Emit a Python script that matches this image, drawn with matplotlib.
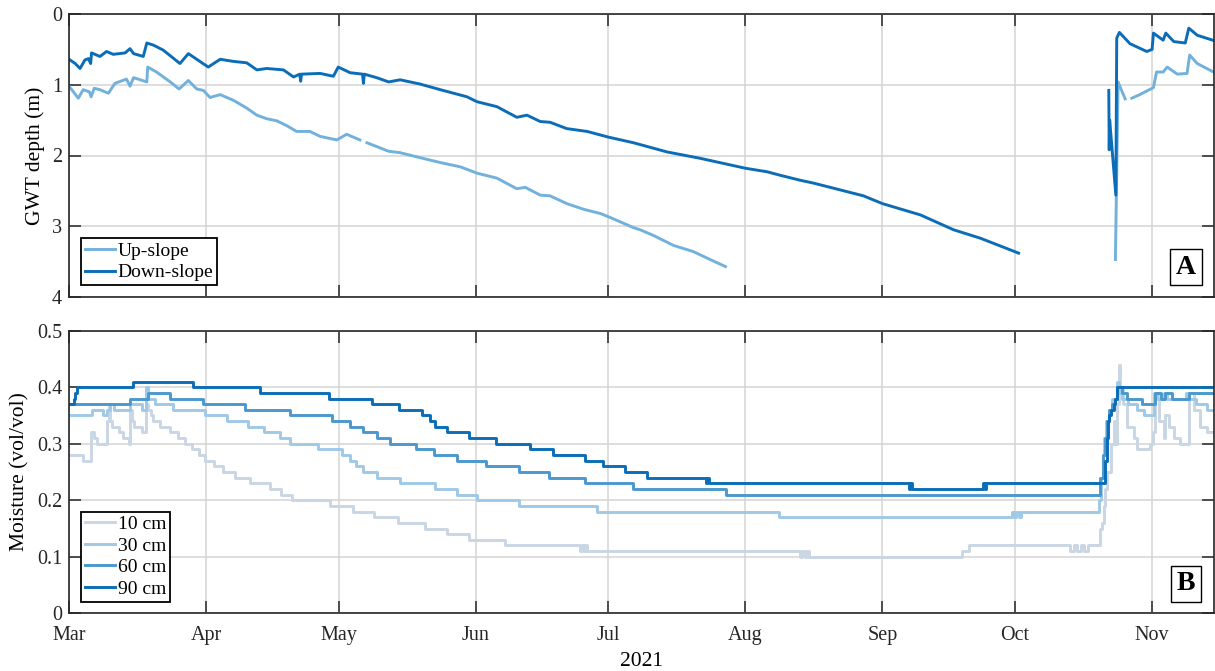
import numpy as np
import pandas as pd
import matplotlib
matplotlib.use("Agg")
from matplotlib import pyplot as plt
import matplotlib.dates as mdates

nan = np.nan

# groundwater table depth (m), days after 1 Mar 2021
up_days = [0, 2.1, 3.2, 4.6, 5.0, 5.7, 7.0, 8.9, 10.4, 13.0, 13.8, 14.6, 16.1, 17.6, 17.8, 19.8, 22.9, 24.9, 27.0, 28.9,
           30.4, 31.9, 34.2, 37.2, 40.2, 42.5, 44.7, 47.0, 49.3, 51.5,
           54.5, 56.8, 60.6, 62.8, 65.8, 66.6, 67.4, 72.3, 74.9, 78.7,
           84.0, 88.5, 92.3, 96.8, 101.3, 103.2, 106.6, 108.8, 112.6, 116.4,
           120.2, 122.2, 127.7, 129.2, 132.2, 136.7, 141.3, 145.0, 148.5, 190.0,
           236.7, 237.3, 238.9, 239.6, 240.4, 242.2, 245.3, 246.0, 247.5, 248.4,
           250.7, 252.9, 253.5, 255.2, 259.2]
up_depth = [1.02, 1.19, 1.07, 1.10, 1.17, 1.05, 1.07, 1.12, 0.98, 0.92,
            1.02, 0.90, 0.93, 0.96, 0.75, 0.82, 0.96, 1.06, 0.94, 1.06,
            1.08, 1.18, 1.14, 1.22, 1.33, 1.43, 1.48, 1.51, 1.58, 1.66,
            1.66, 1.73, 1.78, 1.70, 1.78, nan, 1.82, 1.94, 1.96, 2.02,
            2.10, 2.16, 2.25, 2.32, 2.47, 2.45, 2.56, 2.57, 2.68, 2.76,
            2.82, 2.87, 3.02, 3.05, 3.13, 3.27, 3.36, 3.47, 3.57, nan,
            3.47, 0.96, 1.20, nan, 1.19, 1.14, 1.04, 0.82, 0.82, 0.75,
            0.85, 0.84, 0.58, 0.70, 0.83]

dn_days = [0, 1.4, 2.5, 3.6, 4.4, 4.9, 5.1, 7.0, 8.5, 10.0,
           12.7, 13.8, 14.6, 16.8, 17.6, 19.1, 21.3, 25.1, 27.0, 29.6,
           31.5, 34.2, 37.2, 40.2, 42.5, 44.7, 48.5, 50.8, 52.2, 52.4,
           52.6, 56.8, 59.8, 60.9, 63.6, 66.4, 66.6, 66.8, 69.6, 72.3,
           74.9, 79.4, 84.0, 90.0, 92.3, 96.8, 101.3, 103.6, 106.6, 108.8,
           112.6, 117.2, 122.0, 127.7, 135.3, 142.8, 153.0, 157.9, 160.9, 165.4,
           168.4, 179.7, 184.0, 192.6, 200.1, 206.2, 214.8, 225.0, 235.2, 235.3,
           235.4, 236.8, 237.0, 237.6, 240.0, 243.8, 245.0, 245.3, 247.5, 248.1,
           249.9, 252.5, 253.3, 255.2, 259.2]
dn_depth = [0.64, 0.70, 0.77, 0.65, 0.63, 0.70, 0.55, 0.60, 0.53, 0.57,
            0.55, 0.49, 0.56, 0.60, 0.41, 0.44, 0.51, 0.70, 0.56, 0.67,
            0.75, 0.64, 0.67, 0.69, 0.79, 0.77, 0.79, 0.89, 0.85, 0.95,
            0.85, 0.84, 0.88, 0.75, 0.83, 0.85, 0.98, 0.85, 0.90, 0.96,
            0.93, 0.99, 1.07, 1.17, 1.24, 1.31, 1.46, 1.43, 1.52, 1.53,
            1.62, 1.66, 1.74, 1.82, 1.95, 2.04, 2.18, 2.23, 2.28, 2.35,
            2.39, 2.57, 2.68, 2.84, 3.05, 3.17, 3.38, nan, 1.08, 1.92,
            1.50, 2.56, 0.34, 0.26, 0.42, 0.53, 0.50, 0.27, 0.37, 0.27,
            0.39, 0.41, 0.20, 0.30, 0.38]

# soil moisture (vol/vol), step changes
m10_days = [0, 3.2, 5.0, 5.6, 6.3, 8.6, 9.0, 9.3, 9.8, 11.4,
            12.3, 13.5, 13.9, 14.2, 14.8, 16.5, 17.4, 17.8, 18.5, 19.1,
            20.6, 22.9, 24.7, 26.3, 27.8, 29.3, 30.8, 32.7, 34.9, 37.6,
            41.0, 45.5, 48.0, 50.5, 59.0, 64.3, 68.9, 74.5, 80.6, 85.5,
            90.4, 98.7, 115.6, 116.0, 116.4, 116.8, 117.2, 165.4, 165.9, 166.4,
            166.9, 167.4, 168.0, 202.0, 203.5, 226.5, 227.3, 228.1, 228.9, 229.7,
            230.5, 232.9, 233.3, 233.7, 234.1, 234.4, 234.8, 235.6, 236.3, 236.7,
            237.1, 237.5, 237.8, 238.0, 238.5, 239.3, 240.8, 241.6, 243.8, 244.6,
            245.3, 245.7, 246.5, 247.6, 248.0, 248.8, 249.9, 251.4, 253.1, 253.3,
            254.4, 255.9, 257.5, 259.2]
m10_vals = [0.28, 0.27, 0.32, 0.31, 0.30, 0.34, 0.37, 0.34, 0.33, 0.32,
            0.31, 0.30, 0.36, 0.34, 0.33, 0.32, 0.37, 0.36, 0.35, 0.34,
            0.33, 0.32, 0.31, 0.30, 0.29, 0.28, 0.27, 0.26, 0.25, 0.24,
            0.23, 0.22, 0.21, 0.20, 0.19, 0.18, 0.17, 0.16, 0.15, 0.14,
            0.13, 0.12, 0.11, 0.12, 0.11, 0.12, 0.11, 0.10, 0.11, 0.10,
            0.11, 0.10, 0.10, 0.11, 0.12, 0.11, 0.12, 0.11, 0.12, 0.11,
            0.12, 0.12, 0.15, 0.16, 0.19, 0.22, 0.25, 0.30, 0.34, 0.30,
            0.37, 0.44, 0.40, 0.40, 0.37, 0.33, 0.31, 0.29, 0.29, 0.30,
            0.32, 0.39, 0.34, 0.31, 0.35, 0.33, 0.31, 0.30, 0.30, 0.39,
            0.36, 0.33, 0.32, 0.31]

m30_days = [0, 5.1, 7.8, 8.5, 9.3, 10.2, 13.8, 16.5, 17.5, 17.8,
            19.5, 23.6, 30.8, 35.7, 40.6, 44.0, 47.7, 50.0, 56.4, 61.7,
            63.6, 65.0, 66.6, 69.6, 74.9, 82.8, 87.7, 92.3, 101.7, 119.4,
            160.5, 213.3, 213.8, 214.3, 214.8, 215.3, 216.3, 232.9, 233.4, 233.8,
            234.2, 234.6, 235.2, 236.0, 237.0, 237.6, 238.2, 239.5, 241.6, 243.2,
            245.5, 246.0, 247.8, 248.3, 252.6, 253.2, 255.0, 257.5, 259.2]
m30_vals = [0.35, 0.36, 0.35, 0.36, 0.37, 0.36, 0.37, 0.36, 0.40, 0.38,
            0.37, 0.36, 0.35, 0.34, 0.33, 0.32, 0.31, 0.30, 0.29, 0.28,
            0.27, 0.26, 0.25, 0.24, 0.23, 0.22, 0.21, 0.20, 0.19, 0.18,
            0.17, 0.18, 0.17, 0.18, 0.17, 0.18, 0.18, 0.20, 0.24, 0.28,
            0.31, 0.34, 0.36, 0.38, 0.41, 0.39, 0.38, 0.37, 0.36, 0.35,
            0.39, 0.38, 0.39, 0.38, 0.39, 0.38, 0.37, 0.36, 0.36]

m60_days = [0, 13.8, 17.9, 22.9, 30.4, 39.8, 50.0, 59.4, 63.6, 66.6,
            69.6, 72.6, 78.5, 82.6, 87.7, 94.4, 101.7, 108.5, 116.8, 127.5,
            148.7, 233.3, 233.8, 234.3, 234.8, 235.3, 235.9, 236.5, 237.1, 238.2,
            239.3, 242.7, 245.7, 246.9, 248.0, 249.5, 253.3, 259.2]
m60_vals = [0.37, 0.38, 0.39, 0.38, 0.37, 0.36, 0.35, 0.34, 0.33, 0.32,
            0.31, 0.30, 0.29, 0.28, 0.27, 0.26, 0.25, 0.24, 0.23, 0.22,
            0.21, 0.24, 0.28, 0.31, 0.34, 0.36, 0.37, 0.38, 0.40, 0.39,
            0.38, 0.37, 0.39, 0.38, 0.39, 0.38, 0.39, 0.39]

m90_days = [0, 1.1, 1.4, 1.7, 14.5, 28.1, 43.1, 58.9, 68.5, 74.7,
            79.8, 81.7, 82.8, 85.6, 90.4, 96.6, 104.3, 109.5, 116.8, 120.7,
            125.8, 130.7, 144.1, 144.4, 144.7, 189.9, 190.3, 190.6, 206.8, 207.1,
            207.4, 234.4, 234.7, 235.0, 235.3, 235.6, 236.4, 236.7, 237.0, 259.2]
m90_vals = [0.37, 0.38, 0.39, 0.40, 0.41, 0.40, 0.39, 0.38, 0.37, 0.36,
            0.35, 0.34, 0.33, 0.32, 0.31, 0.30, 0.29, 0.28, 0.27, 0.26,
            0.25, 0.24, 0.23, 0.24, 0.23, 0.22, 0.23, 0.22, 0.23, 0.22,
            0.23, 0.27, 0.31, 0.34, 0.35, 0.36, 0.37, 0.38, 0.40, 0.40]

start = pd.Timestamp("2021-03-01")
end = pd.Timestamp("2021-11-15")


def to_dates(days):
    return start + pd.to_timedelta(np.asarray(days, dtype=float), unit="D")


plt.rcParams["font.family"] = ["Liberation Serif", "DejaVu Serif"]

c_up = "#72b1dc"
c_dn = "#0b6db7"
c_10 = "#c9d6e3"
c_30 = "#9fc9e7"
c_60 = "#4b98ce"
c_90 = "#0b6db7"
edge = "#262626"

fig = plt.figure(figsize=(12.15, 6.71), dpi=100)
ax1 = fig.add_axes([69 / 1215, 1 - 297 / 671, 1145 / 1215, 283 / 671])
ax2 = fig.add_axes([69 / 1215, 1 - 613.3 / 671, 1145 / 1215, 282.6 / 671])

lw = 2.1
ax1.plot(to_dates(up_days), up_depth, color=c_up, lw=lw, label="Up-slope")
ax1.plot(to_dates(dn_days), dn_depth, color=c_dn, lw=lw, label="Down-slope")
ax1.set_ylim(4, 0)
ax1.set_yticks([0, 1, 2, 3, 4])
ax1.set_ylabel("GWT depth (m)", fontsize=15.5, labelpad=5)

ax2.plot(to_dates(m10_days), m10_vals, color=c_10, lw=lw, drawstyle="steps-post", label="10 cm")
ax2.plot(to_dates(m30_days), m30_vals, color=c_30, lw=lw, drawstyle="steps-post", label="30 cm")
ax2.plot(to_dates(m60_days), m60_vals, color=c_60, lw=lw, drawstyle="steps-post", label="60 cm")
ax2.plot(to_dates(m90_days), m90_vals, color=c_90, lw=lw, drawstyle="steps-post", label="90 cm")
ax2.set_ylim(0, 0.5)
ax2.set_yticks([0, 0.1, 0.2, 0.3, 0.4, 0.5])
ax2.set_yticklabels(["0", "0.1", "0.2", "0.3", "0.4", "0.5"])
ax2.set_ylabel("Moisture (vol/vol)", fontsize=15.5, labelpad=5)
ax2.set_xlabel("2021", fontsize=15.5, labelpad=5)

for ax, tag in [(ax1, "A"), (ax2, "B")]:
    ax.set_xlim(start, end)
    ax.xaxis.set_major_locator(mdates.MonthLocator())
    ax.xaxis.set_major_formatter(mdates.DateFormatter("%b"))
    ax.grid(True, color="#d4d4d4", lw=1.1)
    ax.set_axisbelow(True)
    ax.tick_params(direction="in", top=True, right=True, length=8.5, width=1.1,
                   color=edge, labelsize=14.5, labelcolor=edge)
    ax.tick_params(axis="x", pad=9)
    ax.tick_params(axis="y", pad=5)
    for s in ax.spines.values():
        s.set_color(edge)
        s.set_linewidth(1.2)
    leg = ax.legend(loc="lower left", fontsize=14, fancybox=False, framealpha=1,
                    edgecolor="black", handlelength=1.55, handletextpad=0.15,
                    borderpad=0.2, labelspacing=0.2, borderaxespad=0.6)
    leg.get_frame().set_linewidth(1.3)
    ax.text(0.9755, 0.105, tag, transform=ax.transAxes, ha="center", va="center",
            fontsize=20, fontweight="bold",
            bbox=dict(boxstyle="square,pad=0.2", fc="white", ec="black", lw=1))

ax1.tick_params(labelbottom=False)

fig.savefig("out.png", dpi=100)
